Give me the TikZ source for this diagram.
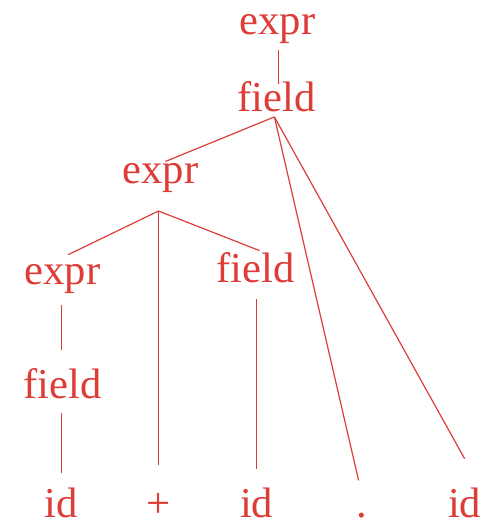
\documentclass[tikz,border=0pt]{standalone}
\usepackage{fontspec}
\setmainfont{Liberation Serif}
\usepackage{xcolor}
\usepackage{tikz}
\usetikzlibrary{positioning, calc}
\definecolor{treered}{RGB}{222,60,55}
\newcommand{\treefont}{\fontsize{43pt}{50pt}\selectfont}

\begin{document}
\begin{tikzpicture}[x=1pt, y=1pt, lbl/.style={anchor=base, inner sep=0pt, text=treered, font=\treefont}, edge/.style={draw=treered, line width=1.2pt}]
    \path[use as bounding box, fill=white] (-2,-5) rectangle (491,528);

    \node[lbl] (e1) at (278,493) {expr};
    \node[lbl] (f1) at (277,415) {field};
    \node[lbl] (e2) at (160,343) {expr};
    \node[lbl] (e3) at (61,241) {expr};
    \node[lbl] (f2) at (256,243) {field};
    \node[lbl] (f3) at (61,126) {field};
    \node[lbl] (id1) at (60,6) {id};
    \node[lbl] (plus) at (158,6) {+};
    \node[lbl] (id2) at (257,6) {id};
    \node[lbl] (dot) at (363,6) {.};
    \node[lbl] (id3) at (467,6) {id};

    \draw[edge] ([shift={(1,-15)}]e1.base) -- ([shift={(2,28)}]f1.base);
    \draw[edge] ([shift={(-2,-5)}]f1.base) -- ([shift={(5,22)}]e2.base);
    \draw[edge] ([shift={(-2,-5)}]f1.base) -- ([shift={(-3,37)}]dot.base);
    \draw[edge] ([shift={(-2,-5)}]f1.base) -- ([shift={(0,59)}]id3.base);
    \draw[edge] ([shift={(-2,-28)}]e2.base) -- ([shift={(6,30)}]e3.base);
    \draw[edge] ([shift={(-2,-28)}]e2.base) -- ([shift={(0,53)}]plus.base);
    \draw[edge] ([shift={(-2,-28)}]e2.base) -- ([shift={(4,32)}]f2.base);
    \draw[edge] ([shift={(-1,-21)}]e3.base) -- ([shift={(-1,49)}]f3.base);
    \draw[edge] ([shift={(-1,-15)}]f3.base) -- ([shift={(0,45)}]id1.base);
    \draw[edge] ([shift={(1,-17)}]f2.base) -- ([shift={(0,49)}]id2.base);
\end{tikzpicture}
\end{document}
